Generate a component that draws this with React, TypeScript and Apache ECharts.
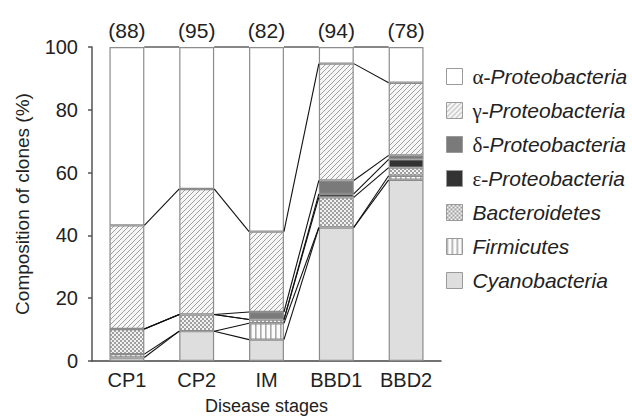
import React, { useEffect, useRef } from 'react';
import * as echarts from 'echarts';

const categories = ['CP1', 'CP2', 'IM', 'BBD1', 'BBD2'];
const cloneCounts = [88, 95, 82, 94, 78];
const yTicks = [0, 20, 40, 60, 80, 100];

// percentages of clones, bottom to top
const cyanobacteria = [1.1, 9.5, 6.8, 42.5, 57.7];
const firmicutes = [1.1, 0, 5.2, 0, 1.3];
const bacteroidetes = [8.0, 5.3, 1.2, 9.6, 2.6];
const epsilonProteo = [0, 0, 0, 1.1, 2.6];
const deltaProteo = [0, 0, 2.4, 4.3, 1.3];
const gammaProteo = [33.0, 40.0, 25.6, 37.2, 23.1];
const alphaProteo = [56.8, 45.2, 58.8, 5.3, 11.4];

const FONT = 'Liberation Sans, Arial, Helvetica, sans-serif';

function makePattern(w: number, h: number, draw: (ctx: CanvasRenderingContext2D) => void) {
  const c = document.createElement('canvas');
  c.width = w;
  c.height = h;
  const ctx = c.getContext('2d')!;
  draw(ctx);
  return { image: c.toDataURL(), repeat: 'repeat', imageWidth: w, imageHeight: h } as any;
}

export default function App() {
  const ref = useRef<HTMLDivElement>(null);

  useEffect(() => {
    document.body.style.margin = '0';
    if (!ref.current) return;
    const chart = echarts.init(ref.current, undefined, { renderer: 'svg' });

    const hatch = makePattern(5, 5, (ctx) => {
      ctx.fillStyle = '#f6f6f6';
      ctx.fillRect(0, 0, 5, 5);
      ctx.strokeStyle = '#a0a0a0';
      ctx.lineWidth = 1;
      ctx.beginPath();
      ctx.moveTo(-1, 6); ctx.lineTo(6, -1);
      ctx.moveTo(-3.5, 3.5); ctx.lineTo(3.5, -3.5);
      ctx.moveTo(1.5, 8.5); ctx.lineTo(8.5, 1.5);
      ctx.stroke();
    });
    const checker = makePattern(4, 4, (ctx) => {
      ctx.fillStyle = '#f2f2f2';
      ctx.fillRect(0, 0, 4, 4);
      ctx.fillStyle = '#a0a0a0';
      ctx.fillRect(0, 0, 2, 2);
      ctx.fillRect(2, 2, 2, 2);
    });
    const stripes = makePattern(5, 5, (ctx) => {
      ctx.fillStyle = '#fbfbfb';
      ctx.fillRect(0, 0, 5, 5);
      ctx.fillStyle = '#a8a8a8';
      ctx.fillRect(0, 0, 1.6, 5);
    });

    const defs = [
      { name: 'Cyanobacteria', data: cyanobacteria, color: '#dedede' },
      { name: 'Firmicutes', data: firmicutes, color: stripes },
      { name: 'Bacteroidetes', data: bacteroidetes, color: checker },
      { name: 'ε-Proteobacteria', data: epsilonProteo, color: '#333333' },
      { name: 'δ-Proteobacteria', data: deltaProteo, color: '#7a7a7a' },
      { name: 'γ-Proteobacteria', data: gammaProteo, color: hatch },
      { name: 'α-Proteobacteria', data: alphaProteo, color: '#ffffff' },
    ];

    // cumulative tops for connecting lines
    const links: number[][] = [];
    const cum = categories.map(() => 0);
    defs.forEach((d) => {
      d.data.forEach((v, i) => (cum[i] += v));
      for (let i = 0; i < categories.length - 1; i++) {
        links.push([i, Math.min(100, cum[i]), Math.min(100, cum[i + 1])]);
      }
    });

    const barSeries = defs.map((d, idx) => ({
      name: d.name,
      type: 'bar',
      stack: 'all',
      barWidth: '50%',
      data: d.data.map((v) => (v === 0 ? '-' : v)),
      itemStyle: { color: d.color, borderColor: '#8c8c8c', borderWidth: 1.2 },
      label:
        idx === defs.length - 1
          ? {
              show: true,
              position: 'top',
              distance: 6,
              formatter: (p: any) => `(${cloneCounts[p.dataIndex]})`,
              fontSize: 21,
              color: '#222',
              fontFamily: FONT,
            }
          : { show: false },
      z: 2,
    }));

    const option: any = {
      animation: false,
      backgroundColor: '#ffffff',
      grid: { left: 92, top: 47, width: 349, height: 317, containLabel: false },
      xAxis: {
        type: 'category',
        data: categories,
        name: 'Disease stages',
        nameLocation: 'middle',
        nameGap: 36,
        nameTextStyle: { fontSize: 18, color: '#222', fontFamily: FONT },
        axisLine: { lineStyle: { color: '#444', width: 1.5 } },
        axisTick: { show: false },
        axisLabel: { fontSize: 20, color: '#222', margin: 9, fontFamily: FONT },
      },
      yAxis: {
        type: 'value',
        min: yTicks[0],
        max: yTicks[yTicks.length - 1],
        interval: yTicks[1] - yTicks[0],
        name: 'Composition of clones (%)',
        nameLocation: 'middle',
        nameGap: 60,
        nameTextStyle: { fontSize: 19, color: '#222', fontFamily: FONT },
        axisLine: { show: true, lineStyle: { color: '#555', width: 1.5 } },
        axisTick: { show: true, inside: false, length: 4, lineStyle: { color: '#555', width: 1.5 } },
        axisLabel: { fontSize: 20, color: '#222', margin: 14, fontFamily: FONT },
        splitLine: { show: false },
      },
      legend: {
        orient: 'vertical',
        left: 441,
        top: 61,
        itemWidth: 16,
        itemHeight: 16,
        itemGap: 13,
        icon: 'rect',
        selectedMode: false,
        data: defs.map((d) => d.name).reverse(),
        itemStyle: { borderColor: '#9a9a9a', borderWidth: 1 },
        formatter: (name: string) => {
          const k = name.indexOf('-');
          if (k >= 0) return `{g|${name.slice(0, k + 1)}}{i|${name.slice(k + 1)}}`;
          return `{i|${name}}`;
        },
        textStyle: {
          fontSize: 21,
          color: '#222',
          lineHeight: 16,
          padding: [0, 0, 0, 5],
          rich: {
            g: { fontSize: 21, fontFamily: 'Liberation Serif, serif', color: '#222', lineHeight: 16 },
            i: { fontSize: 21, fontStyle: 'italic', fontFamily: FONT, color: '#222', lineHeight: 16 },
          },
        },
      },
      series: [
        ...barSeries,
        {
          type: 'custom',
          name: 'links',
          z: 5,
          silent: true,
          encode: { x: 0, y: [1, 2] },
          data: links,
          renderItem: (params: any, api: any) => {
            const i = api.value(0);
            const a = api.coord([i, api.value(1)]);
            const b = api.coord([i + 1, api.value(2)]);
            const half = api.size([1, 0])[0] * 0.25;
            return {
              type: 'line',
              shape: { x1: a[0] + half, y1: a[1], x2: b[0] - half, y2: b[1] },
              style: { stroke: '#111', lineWidth: 1.1 },
            };
          },
        },
      ],
    };

    chart.setOption(option);
    return () => chart.dispose();
  }, []);

  return <div ref={ref} style={{ width: 632, height: 420, background: '#fff' }} />;
}
